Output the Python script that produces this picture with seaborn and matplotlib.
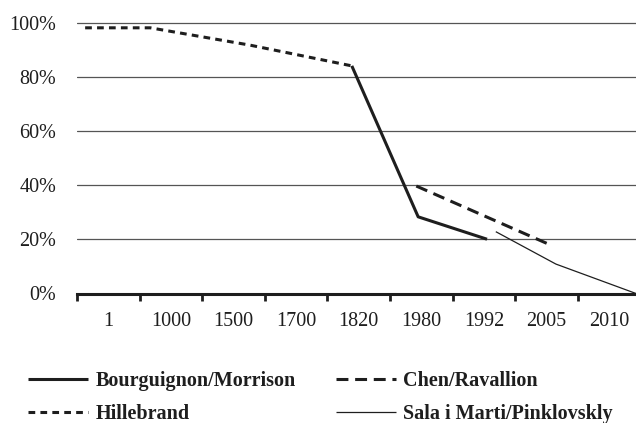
import numpy as np
import pandas as pd
import matplotlib
matplotlib.use('Agg')
import matplotlib.pyplot as plt
import seaborn as sns

# x positions are in "category band" units: band i spans [i, i+1]
categories = ['1', '1000', '1500', '1700', '1820', '1980', '1992', '2005', '2010']

hill_x = [0.13, 1.17, 2.76, 4.39]
hill_y = [98.4, 98.4, 92.0, 84.3]

bm_x = [4.39, 5.45, 6.55]
bm_y = [84.3, 28.4, 20.1]

chen_x = [5.42, 7.59]
chen_y = [39.8, 17.7]

sala_x = [6.69, 7.65, 8.93]
sala_y = [22.9, 10.9, 0.0]

sns.set_style('white')
plt.rcParams['font.family'] = ['Liberation Serif', 'DejaVu Serif']

ink = '#1e1e1e'
fig = plt.figure(figsize=(6.36, 4.23), dpi=100)
ax = fig.add_axes([77 / 636, (423 - 293.5) / 423, (636 - 77) / 636, 0.6447])

series = [
    ('Bourguignon/Morrison', bm_x, bm_y, dict(lw=2.2, ls='-')),
    ('Hillebrand', hill_x, hill_y, dict(lw=2.2, ls=(0, (2.2, 1.7)))),
    ('Chen/Ravallion', chen_x, chen_y, dict(lw=2.2, ls=(0, (3.9, 2.2)))),
    ('Sala i Marti/Pinklovskly', sala_x, sala_y, dict(lw=0.9, ls='-')),
]
for name, xs, ys, st in series:
    df = pd.DataFrame({'x': xs, 'y': ys})
    sns.lineplot(data=df, x='x', y='y', ax=ax, sort=False, color=ink,
                 label=name, linewidth=st['lw'], linestyle=st['ls'],
                 solid_capstyle='butt', dash_capstyle='butt', clip_on=True)

ax.set_xlim(0, (636 - 77) / 62.6)
ax.set_ylim(0, 101)

# y axis: gridlines, percent labels, no ticks
ax.set_yticks([0, 20, 40, 60, 80, 100])
ax.set_yticklabels([f'{v}%' for v in [0, 20, 40, 60, 80, 100]], fontsize=14.5, color=ink)
ax.tick_params(axis='y', length=0, pad=15)
ax.grid(axis='y', color='#555555', linewidth=0.9)
ax.set_axisbelow(True)

# x axis: boundary ticks, labels centered in bands
ax.set_xticks(np.arange(0, 9))
ax.set_xticklabels([])
ax.set_xticks(np.arange(9) + 0.5, minor=True)
ax.set_xticklabels(categories, minor=True, fontsize=14.5, color=ink)
ax.tick_params(axis='x', which='major', bottom=True, length=5, width=2,
               color=ink, direction='out')
ax.tick_params(axis='x', which='minor', bottom=True, length=0, pad=13)

for s in ['top', 'right', 'left']:
    ax.spines[s].set_visible(False)
ax.spines['bottom'].set_linewidth(2.2)
ax.spines['bottom'].set_color(ink)
ax.spines['bottom'].set_zorder(3)
ax.set_xlabel('')
ax.set_ylabel('')

ax.legend(loc='upper left', bbox_to_anchor=(-49 / 559, -0.285), ncol=2,
          frameon=False, prop={'size': 14.5, 'weight': 'bold'},
          handlelength=3.0, handletextpad=0.35, columnspacing=2.0,
          labelspacing=0.62, borderaxespad=0, borderpad=0)
for t in ax.get_legend().get_texts():
    t.set_color(ink)

fig.savefig('out.png', dpi=100)
